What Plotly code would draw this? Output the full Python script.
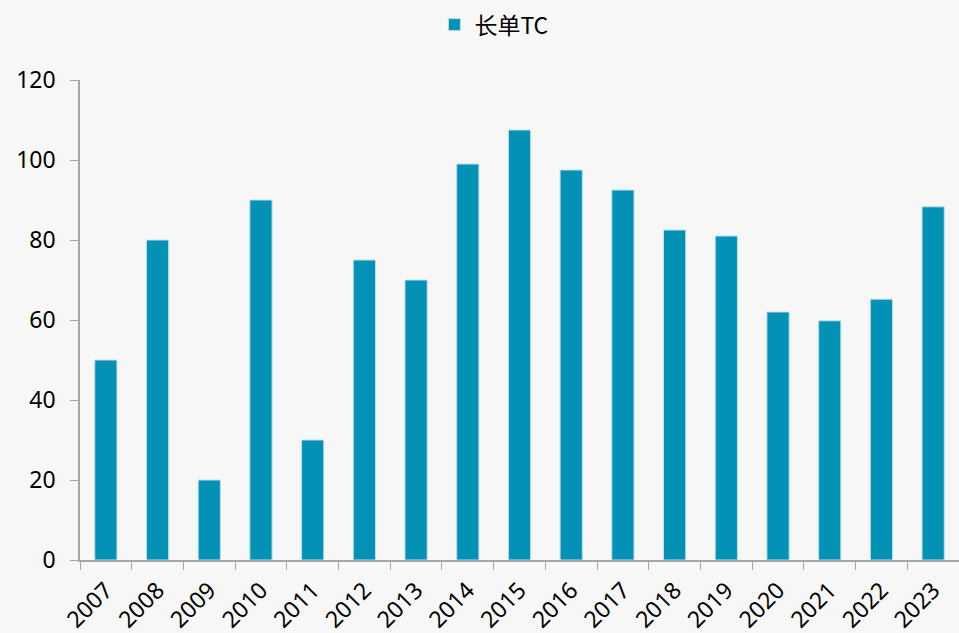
import plotly.graph_objects as go

years = ["2007", "2008", "2009", "2010", "2011", "2012", "2013", "2014", "2015",
         "2016", "2017", "2018", "2019", "2020", "2021", "2022", "2023"]
tc_values = [50, 80, 20, 90, 30, 75, 70, 99, 107.5,
             97.5, 92.5, 82.5, 81, 62, 59.8, 65.2, 88.3]

BAR_COLOR = "#0391b5"
BG = "#f7f7f7"
AXIS = "#a6a6a6"

fig = go.Figure()
fig.add_trace(go.Bar(
    x=years,
    y=tc_values,
    name="长单TC",
    marker=dict(color=BAR_COLOR, line=dict(color="#bfe0ea", width=1)),
))

fig.update_layout(
    width=959, height=633,
    paper_bgcolor=BG, plot_bgcolor=BG,
    margin=dict(l=80, r=0, t=80, b=73),
    bargap=0.57,
    showlegend=True,
    legend=dict(
        orientation="h", xref="container", yref="container",
        x=0.515, xanchor="center", y=0.995, yanchor="top",
        font=dict(family="Noto Sans CJK SC", size=23, color="#000000"),
        bgcolor="rgba(0,0,0,0)", itemwidth=30,
    ),
    font=dict(family="Noto Sans, Noto Sans CJK SC", size=22, color="#000000"),
)
fig.update_xaxes(
    type="category", tickangle=-45, tickson="boundaries",
    ticks="outside", ticklen=8, tickcolor=AXIS,
    showline=True, linecolor=AXIS, linewidth=1.5,
    showgrid=False, tickfont=dict(size=23), ticklabelstandoff=6,
)
fig.update_yaxes(
    range=[0, 120], dtick=20,
    ticks="outside", ticklen=8, tickcolor=AXIS,
    showline=True, linecolor=AXIS, linewidth=1.5,
    showgrid=False, zeroline=False, tickfont=dict(size=23), ticklabelstandoff=10,
)

# page has a default body margin; drop it so the figure fills the window
fig.write_html("out.html", config={"displayModeBar": False},
               post_script="document.body.style.margin='0';")
